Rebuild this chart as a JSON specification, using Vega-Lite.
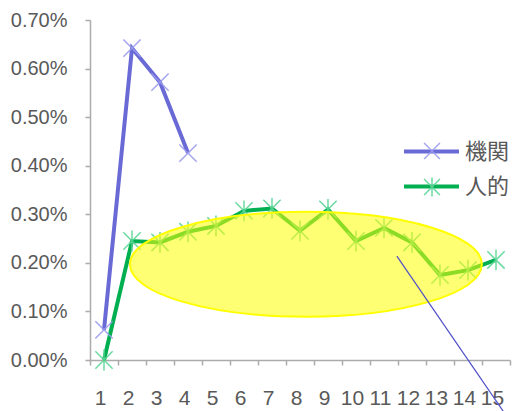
{
  "$schema": "https://vega.github.io/schema/vega-lite/v6.json",
  "width": 420,
  "height": 340,
  "autosize": {"type": "none"},
  "padding": {"left": 90, "top": 20, "right": 9, "bottom": 51},
  "background": "white",
  "config": {
    "view": {"stroke": null},
    "font": "Liberation Sans",
    "axis": {"labelOverlap": false}
  },
  "datasets": {
    "series": [
      {"s": "機関", "x": 1, "v": 0.00062},
      {"s": "機関", "x": 2, "v": 0.00642},
      {"s": "機関", "x": 3, "v": 0.00572},
      {"s": "機関", "x": 4, "v": 0.00426},
      {"s": "人的", "x": 1, "v": 0.0},
      {"s": "人的", "x": 2, "v": 0.00245},
      {"s": "人的", "x": 3, "v": 0.00242},
      {"s": "人的", "x": 4, "v": 0.00264},
      {"s": "人的", "x": 5, "v": 0.00276},
      {"s": "人的", "x": 6, "v": 0.00307},
      {"s": "人的", "x": 7, "v": 0.00312},
      {"s": "人的", "x": 8, "v": 0.00266},
      {"s": "人的", "x": 9, "v": 0.0031},
      {"s": "人的", "x": 10, "v": 0.00245},
      {"s": "人的", "x": 11, "v": 0.00272},
      {"s": "人的", "x": 12, "v": 0.00242},
      {"s": "人的", "x": 13, "v": 0.00175},
      {"s": "人的", "x": 14, "v": 0.00185},
      {"s": "人的", "x": 15, "v": 0.00206}
    ],
    "ellipse": [{"x": 8.21, "v": 0.00197}],
    "pointer": [{"x": 11.46, "v": 0.00214, "x2": 15.49, "v2": -0.00125}]
  },
  "layer": [
    {
      "data": {"name": "series"},
      "mark": {"type": "line", "strokeWidth": 4},
      "encoding": {
        "x": {
          "field": "x", "type": "quantitative",
          "scale": {"domain": [0.5, 15.5], "nice": false, "zero": false},
          "axis": {
            "title": null, "grid": false, "tickCount": 30,
            "values": [0.5,1.5,2.5,3.5,4.5,5.5,6.5,7.5,8.5,9.5,10.5,11.5,12.5,13.5,14.5,15.5],
            "labelExpr": "datum.value < 15 ? '' + round(datum.value + 0.5) : ''",
            "labelOffset": 10, "labelOverlap": false, "labelFlush": false, "labelBound": false,
            "domainColor": "#ABABAB", "domainWidth": 1.5, "tickColor": "#ABABAB", "tickWidth": 1.5, "tickSize": 5,
            "labelFontSize": 21, "labelColor": "#595959", "labelPadding": 22
          }
        },
        "y": {
          "field": "v", "type": "quantitative",
          "scale": {"domain": [0, 0.007], "nice": false, "zero": false},
          "axis": {
            "title": null, "grid": false, "format": ".2%", "tickCount": 20,
            "values": [0, 0.001, 0.002, 0.003, 0.004, 0.005, 0.006, 0.007],
            "domainColor": "#ABABAB", "domainWidth": 1.5, "tickColor": "#ABABAB", "tickWidth": 1.5, "tickSize": 5,
            "labelFontSize": 20, "labelColor": "#595959", "labelPadding": 18
          }
        },
        "color": {
          "field": "s", "type": "nominal",
          "scale": {"domain": ["機関", "人的"], "range": ["#6A6AD6", "#00B050"]},
          "legend": {
            "orient": "none", "legendX": 330, "legendY": 120, "title": null, "padding": 0,
            "symbolType": "M-3,0L3,0", "symbolSize": 336, "symbolStrokeWidth": 4,
            "labelFont": "Noto Sans CJK JP", "labelFontSize": 22, "labelColor": "#595959",
            "labelOffset": 22, "rowPadding": 12
          }
        }
      }
    },
    {
      "data": {"name": "series"},
      "mark": {"type": "point", "filled": false, "strokeWidth": 1.5, "size": 300, "opacity": 0.9},
      "encoding": {
        "x": {"field": "x", "type": "quantitative"},
        "y": {"field": "v", "type": "quantitative"},
        "shape": {
          "field": "s", "type": "nominal",
          "scale": {"domain": ["人的", "機関"], "range": ["M-1,-1L1,1M-1,1L1,-1M0,-1.2L0,1.2", "M-1,-1L1,1M-1,1L1,-1"]},
          "legend": {
            "orient": "none", "legendX": 331, "legendY": 120, "title": null, "padding": 0,
            "values": ["機関", "人的"],
            "symbolSize": 250, "symbolStrokeWidth": 1.5, "symbolFillColor": "transparent",
            "labelFont": "Noto Sans CJK JP", "labelFontSize": 22, "labelColor": "transparent",
            "labelOffset": 22, "rowPadding": 12
          }
        },
        "stroke": {
          "field": "s", "type": "nominal",
          "scale": {"domain": ["人的", "機関"], "range": ["#5CD596", "#9C9CEE"]},
          "legend": {
            "orient": "none", "legendX": 331, "legendY": 120, "title": null, "padding": 0,
            "values": ["機関", "人的"],
            "symbolSize": 250, "symbolStrokeWidth": 1.5, "symbolFillColor": "transparent",
            "labelFont": "Noto Sans CJK JP", "labelFontSize": 22, "labelColor": "transparent",
            "labelOffset": 22, "rowPadding": 12
          }
        }
      }
    },
    {
      "data": {"name": "ellipse"},
      "mark": {
        "type": "point",
        "shape": "M-1,0A1,0.298,0,1,0,1,0A1,0.298,0,1,0,-1,0Z",
        "size": 123904, "filled": true, "fill": "#FFFF00", "fillOpacity": 0.55,
        "stroke": "#FFFF00", "strokeWidth": 2, "strokeOpacity": 1, "opacity": 1
      },
      "encoding": {
        "x": {"field": "x", "type": "quantitative"},
        "y": {"field": "v", "type": "quantitative"}
      }
    },
    {
      "data": {"name": "pointer"},
      "mark": {"type": "rule", "color": "#4F4FC8", "strokeWidth": 1.2},
      "encoding": {
        "x": {"field": "x", "type": "quantitative"},
        "y": {"field": "v", "type": "quantitative"},
        "x2": {"field": "x2"},
        "y2": {"field": "v2"}
      }
    }
  ]
}
